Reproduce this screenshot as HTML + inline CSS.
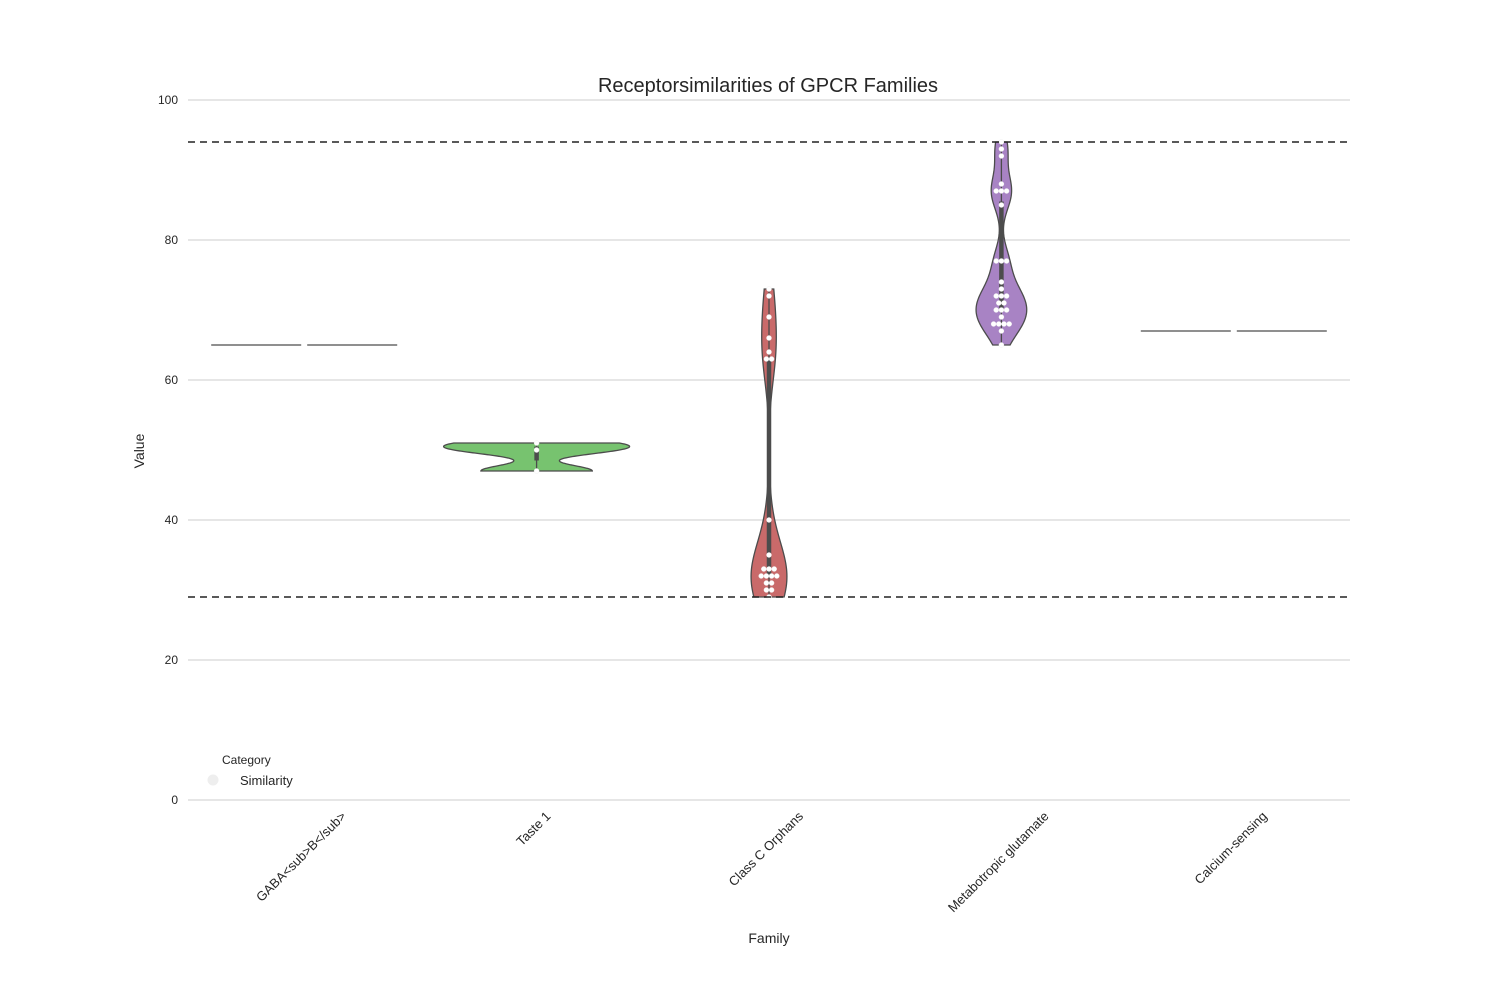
<!DOCTYPE html>
<html><head><meta charset="utf-8">
<style>
body{margin:0;background:#fff;}
svg text{font-family:"Liberation Sans",Arial,sans-serif;fill:#262626;}
</style></head>
<body>
<svg id="chart" width="1500" height="1000" viewBox="0 0 1500 1000" xmlns="http://www.w3.org/2000/svg"></svg>
<script>
const categories = ["GABA<sub>B</sub>", "Taste 1", "Class C Orphans", "Metabotropic glutamate", "Calcium-sensing"];
const gabaValues = [65];
const tasteValues = [51, 50, 47];
const orphanValues = [73, 72, 69, 66, 64, 63, 63, 40, 35, 33, 33, 33, 32, 32, 32, 32, 31, 31, 30, 30, 29];
const metabValues = [94, 93, 92, 88, 87, 87, 87, 85, 77, 77, 77, 74, 73, 72, 72, 72, 71, 71, 70, 70, 70, 69, 68, 68, 68, 68, 67, 65];
const calciumValues = [67];
const seriesValues = [gabaValues, tasteValues, orphanValues, metabValues, calciumValues];
const colors = ["#7d9fcf", "#77c36f", "#c96a6a", "#a883c4", "#c9b56a"];
const yTicks = [0, 20, 40, 60, 80, 100];
const refLines = [94, 29];

const NS = "http://www.w3.org/2000/svg";
const svg = document.getElementById("chart");
const X0 = 188, X1 = 1350, Y0 = 800, Y100 = 100;
const band = (X1 - X0) / categories.length;
const xC = i => X0 + band * (i + 0.5);
const yS = v => Y0 + (v / 100) * (Y100 - Y0);
function mk(tag, attrs, parent) {
  const e = document.createElementNS(NS, tag);
  for (const k in attrs) e.setAttribute(k, attrs[k]);
  (parent || svg).appendChild(e);
  return e;
}

yTicks.forEach(t => {
  const l = mk("line", {x1: X0, x2: X1, y1: yS(t), y2: yS(t), stroke: "#cccccc", "stroke-width": 1});
  
  
  const tx = mk("text", {x: 178, y: yS(t) + 4, "text-anchor": "end", "font-size": 12});
  tx.textContent = t;
  
  
});

function kde(vals) {
  const n = vals.length;
  const mean = vals.reduce((a, b) => a + b, 0) / n;
  const sd = Math.sqrt(vals.reduce((a, b) => a + (b - mean) ** 2, 0) / (n - 1));
  const bw = 0.5 * sd * Math.pow(n, -0.2);
  const lo = Math.min(...vals), hi = Math.max(...vals);
  const pts = [];
  for (let k = 0; k <= 120; k++) {
    const y = lo + (hi - lo) * k / 120;
    let d = 0;
    vals.forEach(v => { d += Math.exp(-0.5 * ((y - v) / bw) ** 2); });
    d /= n * bw * Math.sqrt(2 * Math.PI);
    pts.push([y, d]);
  }
  return pts;
}
const dens = seriesValues.map(v => v.length > 1 ? kde(v) : null);
let gmax = 0;
dens.forEach(d => { if (d) d.forEach(p => { gmax = Math.max(gmax, p[1]); }); });
const maxHalf = 93;

function quant(arr, q) {
  const s = [...arr].sort((a, b) => a - b);
  const p = (s.length - 1) * q, f = Math.floor(p), c = Math.ceil(p);
  return s[f] + (s[c] - s[f]) * (p - f);
}

seriesValues.forEach((vals, i) => {
  const cx = xC(i);
  const g = mk("g", {});
  
  
  if (!dens[i]) {
    const y = yS(vals[0]);
    const a = mk("line", {x1: cx - maxHalf, x2: cx - 3, y1: y, y2: y, stroke: "#4c4c4c", "stroke-width": 1.2}, g);
    
    
    const b = mk("line", {x1: cx + 3, x2: cx + maxHalf, y1: y, y2: y, stroke: "#4c4c4c", "stroke-width": 1.2}, g);
    
    
    return;
  }
  const d = dens[i];
  let path = "";
  d.forEach((p, k) => { path += (k ? "L" : "M") + (cx + p[1] / gmax * maxHalf).toFixed(2) + "," + yS(p[0]).toFixed(2); });
  for (let k = d.length - 1; k >= 0; k--) path += "L" + (cx - d[k][1] / gmax * maxHalf).toFixed(2) + "," + yS(d[k][0]).toFixed(2);
  path += "Z";
  const body = mk("path", {d: path, fill: colors[i], stroke: "#4c4c4c", "stroke-width": 1.3}, g);
  
  
  const lo = Math.min(...vals), hi = Math.max(...vals);
  const w = mk("line", {x1: cx, x2: cx, y1: yS(lo), y2: yS(hi), stroke: "#4c4c4c", "stroke-width": 1.3}, g);
  
  
  const bx = mk("line", {x1: cx, x2: cx, y1: yS(quant(vals, 0.25)), y2: yS(quant(vals, 0.75)), stroke: "#4c4c4c", "stroke-width": 4.5}, g);
  
  
  const counts = {};
  vals.forEach(v => { counts[v] = (counts[v] || 0) + 1; });
  Object.keys(counts).forEach(key => {
    const c = counts[key];
    for (let j = 0; j < c; j++) {
      const off = (j - (c - 1) / 2) * 5.2;
      const dot = mk("circle", {cx: cx + off, cy: yS(+key), r: 2.5, fill: "#ffffff", stroke: "#eeeeee", "stroke-width": 0.4}, g);
      
      
    }
  });
});

refLines.forEach(v => {
  const l = mk("line", {x1: X0, x2: X1, y1: yS(v), y2: yS(v), stroke: "#222222", "stroke-width": 1.4, "stroke-dasharray": "7,5"});
  
  
});

categories.forEach((c, i) => {
  const t = mk("text", {x: 0, y: 0, "text-anchor": "middle", "font-size": 13});
  t.textContent = c;
  
  
  const L = t.getComputedTextLength();
  const cy = 812 + L * 0.7071 / 2 + 5;
  t.setAttribute("transform", `translate(${xC(i)},${cy}) rotate(-45)`);
});
</script>
<svg style="position:absolute;left:0;top:0" width="1500" height="1000">
  <text x="768" y="92" text-anchor="middle" font-size="20">Receptorsimilarities of GPCR Families</text>
  <text transform="translate(144,451) rotate(-90)" text-anchor="middle" font-size="14">Value</text>
  <text x="769" y="943" text-anchor="middle" font-size="14">Family</text>
  <g>
    <text x="222" y="764" font-size="12">Category</text>
    <circle cx="213" cy="780" r="5.5" fill="#eeeeee"/>
    <text x="240" y="785" font-size="13">Similarity</text>
  </g>
</svg>
</body></html>
